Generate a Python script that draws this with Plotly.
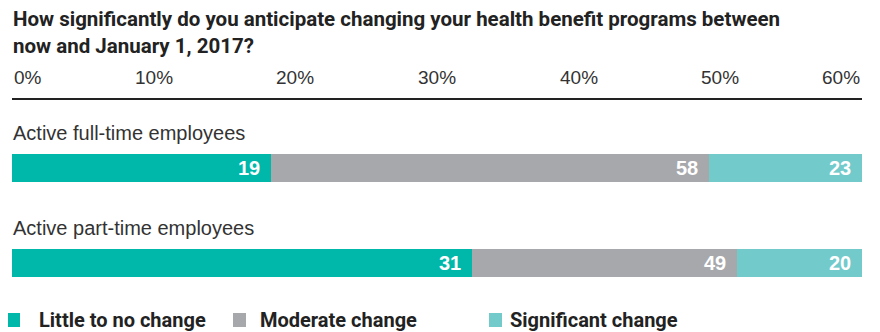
import plotly.graph_objects as go
import numpy as np

title_lines = ["How significantly do you anticipate changing your health benefit programs between",
               "now and January 1, 2017?"]
categories = ["Active full-time employees", "Active part-time employees"]
series_names = ["Little to no change", "Moderate change", "Significant change"]
colors = ["#00B8AA", "#A7A8AC", "#72CACB"]
# printed values (labels in bars)
little_labels = [19, 31]
moderate_labels = [58, 49]
significant_labels = [23, 20]
# segment lengths as drawn against the 0-60% axis
little_len = [18.3, 32.5]
moderate_len = [30.9, 18.7]
significant_len = [10.8, 8.8]
tick_vals = [0, 10, 20, 30, 40, 50, 60]
tick_text = ["0%", "10%", "20%", "30%", "40%", "50%", "60%"]

lens = [little_len, moderate_len, significant_len]
labels = [little_labels, moderate_labels, significant_labels]

FONT = "Liberation Sans"
BOLD = "Roboto"

OFF = 8  # page body margin
W, H = 880 - OFF, 332 - OFF
PLOT_L, PLOT_R = 12, 862
PLOT_T, PLOT_B = 100, 300
L = PLOT_L - OFF
R = W - (PLOT_R - OFF)
T = PLOT_T - OFF
B = H - (PLOT_B - OFF)

def ypaper(px):
    return (PLOT_B - px) / (PLOT_B - PLOT_T)
def xpaper(px):
    return (px - PLOT_L) / (PLOT_R - PLOT_L)

fig = go.Figure()
for name, col, ln in zip(series_names, colors, lens):
    fig.add_trace(go.Bar(
        y=categories, x=ln, name=name, orientation="h",
        marker=dict(color=col, line=dict(width=0)),
        width=0.295, showlegend=False, hoverinfo="skip"))

annotations = []
cum = np.cumsum(np.array(lens), axis=0)
for si in range(3):
    for ci, cat in enumerate(categories):
        annotations.append(dict(
            x=float(cum[si][ci]), y=cat, xref="x", yref="y",
            text="<b>%d</b>" % labels[si][ci], showarrow=False,
            xanchor="right", yanchor="middle", xshift=-9,
            font=dict(family=FONT, size=20, color="white")))
for cat in categories:
    annotations.append(dict(
        x=0, y=cat, xref="x", yref="y", text=cat, showarrow=False,
        xanchor="left", yanchor="middle", yshift=35, xshift=-1,
        font=dict(family=FONT, size=20, color="#333333")))
for v, t in zip(tick_vals, tick_text):
    anchor = "left" if v == tick_vals[0] else ("right" if v == tick_vals[-1] else "center")
    annotations.append(dict(
        x=v, y=ypaper(77), xref="x", yref="paper", text=t, showarrow=False,
        xanchor=anchor, yanchor="middle",
        font=dict(family=FONT, size=19, color="#333333")))
for line, ypx in zip(title_lines, [19.5, 46.5]):
    annotations.append(dict(
        x=0, xref="paper", y=ypaper(ypx), yref="paper", text="<b>%s</b>" % line,
        showarrow=False, xanchor="left", yanchor="middle", xshift=-1,
        font=dict(family=BOLD, size=20.5, color="#222222")))

leg_sq_x = [7, 233, 489]
leg_tx_x = [37, 258, 508]
shapes = []
for name, col, sx, tx in zip(series_names, colors, leg_sq_x, leg_tx_x):
    shapes.append(dict(type="rect", xref="paper", yref="paper",
                       x0=xpaper(sx), x1=xpaper(sx + 13), y0=ypaper(327), y1=ypaper(313),
                       fillcolor=col, line=dict(width=0)))
    annotations.append(dict(x=xpaper(tx), y=ypaper(320), xref="paper", yref="paper",
                            text="<b>%s</b>" % name, showarrow=False,
                            xanchor="left", yanchor="middle",
                            font=dict(family=BOLD, size=20, color="#222222")))

fig.update_layout(
    width=W, height=H, barmode="stack",
    margin=dict(l=L, r=R, t=T, b=B, pad=0),
    paper_bgcolor="white", plot_bgcolor="white",
    xaxis=dict(range=[0, 60], side="top", showline=True, linecolor="#222222", linewidth=2,
               showgrid=False, zeroline=False, showticklabels=False, ticks="", fixedrange=True),
    yaxis=dict(categoryorder="array", categoryarray=categories,
               range=[1.389, -0.716], showticklabels=False, showgrid=False,
               zeroline=False, showline=False, ticks="", fixedrange=True),
    annotations=annotations, shapes=shapes,
)
fig.write_html("out.html")
